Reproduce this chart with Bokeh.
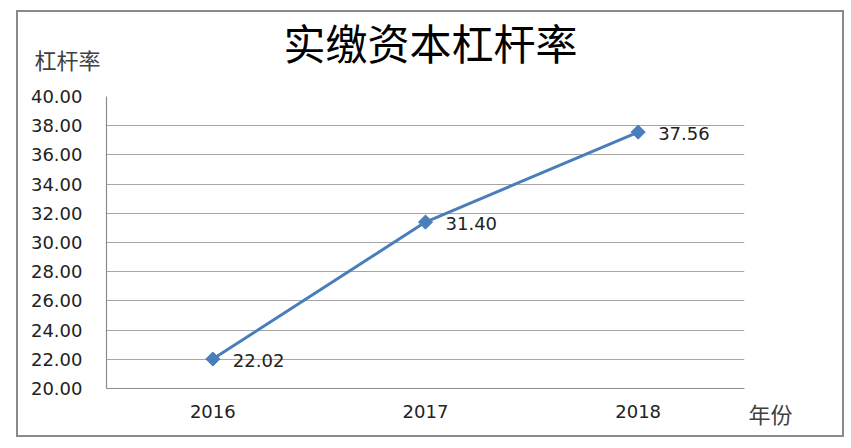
from bokeh.plotting import figure
from bokeh.models import (ColumnDataSource, Label, FactorRange, Range1d, FixedTicker,
                          CustomJSTickFormatter)
from bokeh.layouts import column, row
from bokeh.core.properties import value
from bokeh.embed import file_html
from bokeh.resources import INLINE

years = ["2016", "2017", "2018"]
ratios = [22.02, 31.40, 37.56]
label_texts = ["22.02", "31.40", "37.56"]
y_ticks = [20, 22, 24, 26, 28, 30, 32, 34, 36, 38, 40]

title_text = "实缴资本杠杆率"
y_title = "杠杆率"
x_title = "年份"

LINE = "#4a7ebb"
NUMFONT = "DejaVu Sans"
CJK = "Noto Sans CJK SC"


def blank(width, height, yaxis=False):
    f = figure(width=width, height=height, x_range=Range1d(0, width), y_range=Range1d(0, height),
               x_axis_type=None, y_axis_type="linear" if yaxis else None, output_backend="svg",
               toolbar_location=None, min_border=0)
    f.outline_line_color = None
    f.xgrid.grid_line_color = None
    f.ygrid.grid_line_color = None
    return f


# header: title, and the y-axis title drawn as the header's only tick label
head = blank(728, 70, yaxis=True)
head.add_layout(Label(x=324, y=41, x_units="screen", y_units="screen", text=title_text,
                      text_font=CJK, text_font_size="42px", text_color="#000000",
                      text_align="center", text_baseline="middle"))
head.yaxis.ticker = FixedTicker(ticks=[24])
head.yaxis.formatter = CustomJSTickFormatter(args=dict(t=y_title), code="return t;")
head.yaxis.axis_line_color = None
head.yaxis.major_tick_line_color = None
head.yaxis.minor_tick_line_color = None
head.yaxis.major_tick_out = 0
head.yaxis.major_tick_in = 0
head.yaxis.major_label_standoff = 6
head.yaxis.major_label_text_font = CJK
head.yaxis.major_label_text_font_size = "22px"
head.yaxis.major_label_text_color = "#404040"

# main chart
p = figure(width=728, height=353, x_range=FactorRange(*years), y_range=Range1d(20, 40),
           output_backend="svg", toolbar_location=None,
           min_border_left=88, min_border_right=2, min_border_top=14, min_border_bottom=47)
p.outline_line_color = None
p.xgrid.grid_line_color = None
p.ygrid.grid_line_color = "#a6a6a6"
p.ygrid.grid_line_width = 1.2
p.yaxis.ticker = FixedTicker(ticks=y_ticks)
p.yaxis.formatter = CustomJSTickFormatter(code="return tick.toFixed(2);")

for ax in (p.xaxis, p.yaxis):
    ax.axis_line_color = "#8c8c8c"
    ax.axis_line_width = 1.2
    ax.major_tick_line_color = None
    ax.minor_tick_line_color = None
    ax.major_tick_out = 0
    ax.major_tick_in = 0
    ax.major_label_text_font = NUMFONT
    ax.major_label_text_font_size = "18px"
    ax.major_label_text_color = "#222222"
p.yaxis.major_label_standoff = 24
p.xaxis.major_label_standoff = 16

src = ColumnDataSource(dict(x=years, y=ratios, t=label_texts))
p.line("x", "y", source=src, line_color=LINE, line_width=3)
p.scatter("x", "y", source=src, marker="square", angle=0.785398, size=10,
          fill_color=LINE, line_color=LINE)
p.text("x", "y", text="t", source=src, x_offset=20, y_offset=1,
       text_font=value(NUMFONT), text_font_size="18px", text_color="#222222",
       text_baseline="middle", text_align="left")

# side panel: x-axis title
side = blank(96, 423)
side.add_layout(Label(x=2, y=23, x_units="screen", y_units="screen", text=x_title,
                      text_font=CJK, text_font_size="22px", text_color="#404040",
                      text_align="left", text_baseline="middle"))

layout = row(column(head, p, spacing=0), side, spacing=0)
layout.styles = {"border": "2px solid #8a8a8a", "margin-left": "16px", "margin-top": "10px",
                 "background-color": "white"}

open("out.html", "w").write(file_html(layout, INLINE))
